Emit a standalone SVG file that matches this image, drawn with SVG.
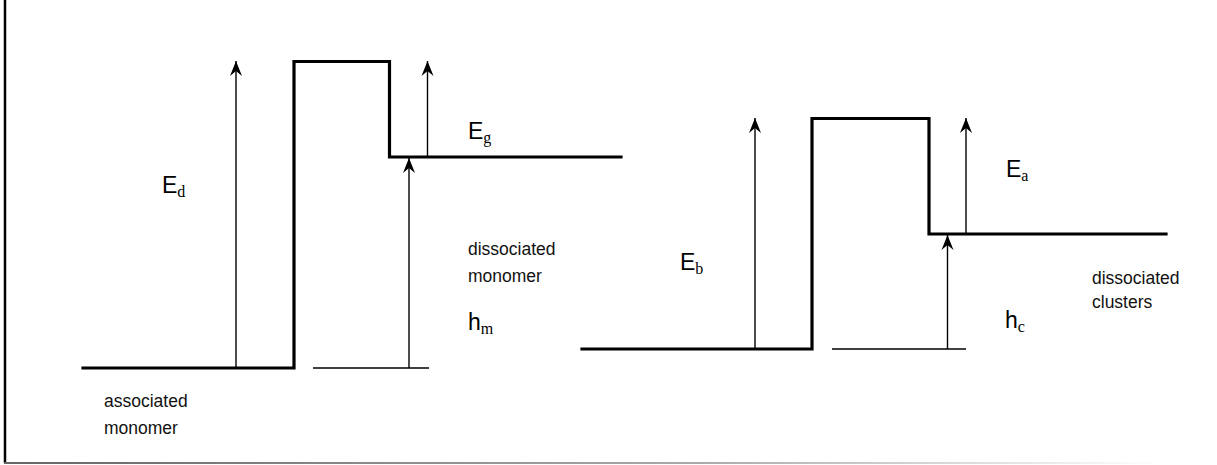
<svg xmlns="http://www.w3.org/2000/svg" width="1217" height="465" viewBox="0 0 1217 465">
<style>
.thick{fill:none;stroke:#000;stroke-width:3.2;stroke-linejoin:miter;stroke-linecap:square}
.thin{fill:none;stroke:#000;stroke-width:1.5}
.arr{fill:none;stroke:#000;stroke-width:1.4;marker-end:url(#ah)}
.lbl{font-family:"Liberation Sans",Arial,sans-serif;font-size:17.5px;fill:#111}
.E{font-family:"Liberation Sans",Arial,sans-serif;font-size:23px;fill:#000}
.sub{font-family:"Liberation Serif","Times New Roman",serif;font-size:16px;fill:#000}
</style>
<defs>
<marker id="ah" markerUnits="userSpaceOnUse" markerWidth="18" markerHeight="16" viewBox="-16 -8 18 16" refX="0" refY="0" orient="auto">
<path d="M0,0 L-15,-6 L-10,0 L-15,6 Z" fill="#000"/>
</marker>
<linearGradient id="fade" x1="0" y1="0" x2="1" y2="0">
<stop offset="0" stop-color="#666"/>
<stop offset="0.6" stop-color="#aaa"/>
<stop offset="1" stop-color="#fff"/>
</linearGradient>
</defs>
<rect width="1217" height="465" fill="#fff"/>
<g id="frame">
<line x1="5" y1="0" x2="5" y2="463" stroke="#000" stroke-width="2.5"/>
<rect x="4" y="462" width="1156" height="2" fill="url(#fade)"/>
</g>
<g id="left-profile">
<polyline class="thick" points="83,368 294,368 294,61.5 389.5,61.5 389.5,157 621,157"/>
<line class="thin" x1="313" y1="368" x2="429" y2="368"/>
</g>
<g id="right-profile">
<polyline class="thick" points="582,349 812,349 812,118.5 929,118.5 929,234 1166,234"/>
<line class="thin" x1="832" y1="349" x2="966" y2="349"/>
</g>
<g id="connectors">
<line class="arr" x1="236" y1="368" x2="236" y2="61"/>
<line class="arr" x1="427.5" y1="157" x2="427.5" y2="61"/>
<line class="arr" x1="409" y1="368" x2="409" y2="158"/>
<line class="arr" x1="755" y1="349" x2="755" y2="118"/>
<line class="arr" x1="966" y1="234" x2="966" y2="118"/>
<line class="arr" x1="947.5" y1="349" x2="947.5" y2="235"/>
</g>
<g id="labels">
<text class="E" x="162" y="193">E<tspan class="sub" dy="4">d</tspan></text>
<text class="E" x="468" y="139">E<tspan class="sub" dy="4">g</tspan></text>
<text class="lbl" x="468" y="255">dissociated</text>
<text class="lbl" x="468" y="282">monomer</text>
<text class="E" x="468" y="330">h<tspan class="sub" dy="4">m</tspan></text>
<text class="lbl" x="104" y="407">associated</text>
<text class="lbl" x="104" y="434">monomer</text>
<text class="E" x="680" y="270">E<tspan class="sub" dy="4">b</tspan></text>
<text class="E" x="1006" y="177">E<tspan class="sub" dy="4">a</tspan></text>
<text class="lbl" x="1092" y="284">dissociated</text>
<text class="lbl" x="1092" y="308">clusters</text>
<text class="E" x="1005" y="328">h<tspan class="sub" dy="4">c</tspan></text>
</g>
</svg>
